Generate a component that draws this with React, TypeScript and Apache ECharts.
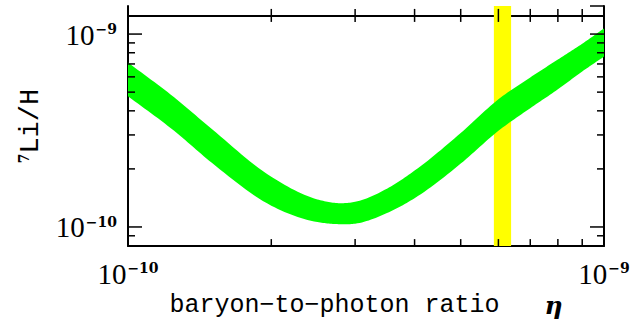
import React, { useEffect, useRef } from 'react';
import * as echarts from 'echarts';

// baryon-to-photon ratio (x) and predicted 7Li/H band edges (y)
const etaValues = [1e-10, 1.25e-10, 1.5e-10, 2e-10, 2.5e-10, 2.75e-10, 3e-10, 3.5e-10, 4e-10, 5e-10, 6e-10, 7e-10, 8e-10, 9e-10, 1e-9];
const li7Upper = [7.12e-10, 4.7e-10, 3.22e-10, 1.82e-10, 1.39e-10, 1.33e-10, 1.35e-10, 1.58e-10, 1.96e-10, 3.07e-10, 4.59e-10, 5.96e-10, 7.38e-10, 8.91e-10, 1.07e-9];
const li7Lower = [4.76e-10, 3.15e-10, 2.15e-10, 1.29e-10, 1.06e-10, 1.035e-10, 1.04e-10, 1.18e-10, 1.41e-10, 2.13e-10, 3.15e-10, 4.13e-10, 5.17e-10, 6.4e-10, 7.64e-10];
// observed eta range (vertical band)
const etaBand = [5.87e-10, 6.38e-10];

const xRange = [1e-10, 1e-9];
const yRange = [7.958e-11, 1.398e-9];
const topFrameValue = 1.242e-9;

const xMinorTicks = [2e-10, 3e-10, 4e-10, 5e-10, 6e-10, 7e-10, 8e-10, 9e-10];
const yMajorTicks = [1e-10, 1e-9];
const yMinorTicks = [9e-11, 2e-10, 3e-10, 4e-10, 5e-10, 6e-10, 7e-10, 8e-10, 9e-10];

const xTitle = 'baryon−to−photon ratio   ';
const xTitleSymbol = 'η';
const yTitleSup = '7';
const yTitle = 'Li/H';

const labelFormatter = (v: number) => {
  const e = Math.log10(v);
  const r = Math.round(e);
  if (Math.abs(e - r) > 1e-6) return '';
  return `{b|10}{s|−${-r}}`;
};

const labelRich = {
  b: { fontFamily: 'Liberation Serif', fontSize: 29, lineHeight: 30, color: '#000', verticalAlign: 'bottom' },
  s: { fontFamily: 'DejaVu Serif', fontWeight: 'bold', fontSize: 14, lineHeight: 14, color: '#000', verticalAlign: 'top', padding: [3, 0, 0, 1] },
};

// cubic Hermite interpolation in pixel space, x-parametrised (rendering only)
const smoothPath = (pts: number[][], steps = 14) => {
  const n = pts.length;
  const slope = (i: number, j: number) => (pts[j][1] - pts[i][1]) / (pts[j][0] - pts[i][0]);
  const m = pts.map((_, i) => {
    if (i === 0) return slope(0, 1);
    if (i === n - 1) return slope(n - 2, n - 1);
    const d0 = slope(i - 1, i);
    const d1 = slope(i, i + 1);
    const h0 = pts[i][0] - pts[i - 1][0];
    const h1 = pts[i + 1][0] - pts[i][0];
    return (d0 * h1 + d1 * h0) / (h0 + h1);
  });
  const out: number[][] = [];
  for (let i = 0; i < n - 1; i++) {
    const [x0, y0] = pts[i];
    const [x1, y1] = pts[i + 1];
    const h = x1 - x0;
    for (let s = 0; s < steps; s++) {
      const t = s / steps;
      const t2 = t * t;
      const t3 = t2 * t;
      const y = (2 * t3 - 3 * t2 + 1) * y0 + (t3 - 2 * t2 + t) * h * m[i] + (-2 * t3 + 3 * t2) * y1 + (t3 - t2) * h * m[i + 1];
      out.push([x0 + t * h, y]);
    }
  }
  out.push(pts[n - 1]);
  return out;
};

export default function App() {
  const ref = useRef<HTMLDivElement>(null);
  useEffect(() => {
    if (!ref.current) return;
    const chart = echarts.init(ref.current, null, { renderer: 'svg' });
    const blk = '#000';
    chart.setOption({
      animation: false,
      backgroundColor: '#fff',
      grid: { left: 128, right: 30, top: 6, bottom: 75 },
      xAxis: {
        type: 'log',
        logBase: 10,
        min: xRange[0],
        max: xRange[1],
        axisLine: { show: true, lineStyle: { color: blk, width: 2 } },
        axisTick: { show: false },
        splitLine: { show: false },
        axisLabel: { formatter: labelFormatter, rich: labelRich, margin: 12, showMinLabel: true, showMaxLabel: true },
        name: `{t|${xTitle}}{e|${xTitleSymbol}}`,
        nameLocation: 'middle',
        nameGap: 45,
        nameTextStyle: {
          rich: {
            t: { fontFamily: 'Liberation Mono', fontSize: 25, color: blk },
            e: { fontFamily: 'DejaVu Serif', fontSize: 25, fontWeight: 'bold', fontStyle: 'italic', color: blk },
          },
        },
      },
      yAxis: [
        {
          type: 'log',
          logBase: 10,
          min: yRange[0],
          max: yRange[1],
          position: 'left',
          axisLine: { show: true, lineStyle: { color: blk, width: 2 } },
          axisTick: { show: false },
          splitLine: { show: false },
          axisLabel: { formatter: labelFormatter, rich: labelRich, margin: 11 },
          name: `{s|${yTitleSup}}{t|${yTitle}}`,
          nameLocation: 'middle',
          nameRotate: 90,
          nameGap: 80,
          nameTextStyle: {
            rich: {
              t: { fontFamily: 'Liberation Mono', fontSize: 27, lineHeight: 28, color: blk, verticalAlign: 'bottom' },
              s: { fontFamily: 'DejaVu Serif', fontWeight: 'bold', fontSize: 14, lineHeight: 14, color: blk, verticalAlign: 'top' },
            },
          },
        },
        {
          type: 'log',
          logBase: 10,
          min: yRange[0],
          max: yRange[1],
          position: 'right',
          axisLine: { show: true, lineStyle: { color: blk, width: 2 } },
          axisTick: { show: false },
          axisLabel: { show: false },
          splitLine: { show: false },
        },
      ],
      series: [
        {
          type: 'custom',
          z: 1,
          silent: true,
          data: [[xRange[0], topFrameValue]],
          renderItem: (_p: any, api: any) => {
            const a = api.coord([xRange[0], topFrameValue]);
            const b = api.coord([xRange[1], topFrameValue]);
            return { type: 'line', shape: { x1: a[0], y1: a[1], x2: b[0], y2: b[1] }, style: { stroke: blk, lineWidth: 2 } };
          },
        },
        {
          type: 'custom',
          z: 2,
          silent: true,
          data: [[etaBand[0], yRange[1]]],
          renderItem: (_p: any, api: any) => {
            const a = api.coord([etaBand[0], yRange[1]]);
            const b = api.coord([etaBand[1], yRange[0]]);
            return { type: 'rect', shape: { x: a[0], y: a[1], width: b[0] - a[0], height: b[1] - a[1] }, style: { fill: '#ffff00' } };
          },
        },
        {
          type: 'custom',
          z: 3,
          silent: true,
          data: [[etaValues[0], li7Upper[0]]],
          renderItem: (_p: any, api: any) => {
            const up = smoothPath(etaValues.map((x, i) => api.coord([x, li7Upper[i]])));
            const lo = smoothPath(etaValues.map((x, i) => api.coord([x, li7Lower[i]])));
            return { type: 'polygon', shape: { points: up.concat(lo.reverse()) }, style: { fill: '#00ff00' } };
          },
        },
        {
          type: 'custom',
          z: 5,
          silent: true,
          data: [[xRange[0], topFrameValue]],
          renderItem: (_p: any, api: any) => {
            const children: any[] = [];
            const seg = (p: number[], dx1: number, dy1: number, dx2: number, dy2: number) =>
              children.push({
                type: 'line',
                shape: { x1: p[0] + dx1, y1: p[1] + dy1, x2: p[0] + dx2, y2: p[1] + dy2 },
                style: { stroke: blk, lineWidth: 1.5 },
              });
            xMinorTicks.forEach((v) => {
              seg(api.coord([v, yRange[0]]), 0, 0, 0, -7);
              seg(api.coord([v, topFrameValue]), 0, -7, 0, 6);
            });
            yMinorTicks.forEach((v) => {
              seg(api.coord([xRange[0], v]), 0, 0, 7, 0);
              seg(api.coord([xRange[1], v]), 0, 0, -7, 0);
            });
            yMajorTicks.forEach((v) => {
              seg(api.coord([xRange[0], v]), 0, 0, 14, 0);
              seg(api.coord([xRange[1], v]), 0, 0, -14, 0);
            });
            seg(api.coord([xRange[1], yRange[1]]), 0, 0, -14, 0);
            return { type: 'group', children };
          },
        },
      ],
    });
    return () => chart.dispose();
  }, []);
  return <div ref={ref} style={{ position: 'fixed', left: 0, top: 0, width: 634, height: 323 }} />;
}
